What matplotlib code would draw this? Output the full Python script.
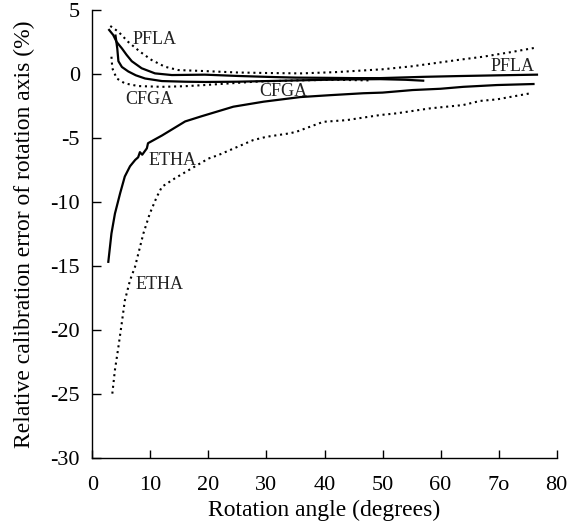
import numpy as np
import matplotlib
matplotlib.use("Agg")
import matplotlib.pyplot as plt

plt.rcParams['font.family'] = ['Liberation Serif', 'DejaVu Serif']
plt.rcParams['axes.unicode_minus'] = False

# PFLA
pfla_x = [2.9, 3.6, 4.2, 5.1, 5.9, 6.8, 8.5, 10.8, 13.7, 19.4, 25, 30, 35, 41, 45, 49.6, 57, 63, 70, 76.6]
pfla_y = [3.44, 3.05, 2.5, 2.0, 1.5, 1.0, 0.45, 0.05, -0.08, -0.05, -0.15, -0.22, -0.28, -0.3, -0.32, -0.32, -0.22, -0.16, -0.1, -0.05]
pfla_dot_x = [3.1, 4.5, 6.2, 8.2, 10.2, 12.5, 14.8, 19.4, 25, 30, 36, 42, 50, 55, 58.7, 63, 67.3, 72, 76.3]
pfla_dot_y = [3.75, 3.3, 2.5, 1.75, 1.1, 0.57, 0.31, 0.23, 0.12, 0.08, 0.05, 0.15, 0.37, 0.6, 0.83, 1.1, 1.35, 1.7, 2.05]

# CFGA
cfga_x = [4.0, 4.3, 4.5, 5.1, 6.2, 7.5, 9.1, 12, 16, 19.4, 25, 30, 35, 40, 45, 49.6, 54, 57]
cfga_y = [3.0, 2.0, 1.0, 0.55, 0.2, -0.1, -0.35, -0.55, -0.6, -0.62, -0.6, -0.55, -0.5, -0.45, -0.42, -0.4, -0.45, -0.52]
cfga_dot_x = [3.3, 3.45, 4.2, 5.6, 7.9, 12, 16, 19.4, 23, 28, 35, 42, 47.8]
cfga_dot_y = [1.35, 0.45, -0.34, -0.73, -0.94, -1.0, -0.95, -0.86, -0.75, -0.6, -0.5, -0.45, -0.5]

# ETHA
etha_x = [2.76, 3.3, 3.9, 4.8, 5.6, 6.5, 7.4, 7.9, 8.2, 8.6, 9.4, 9.6, 12, 16, 18.8, 24.3,
          29.5, 35.8, 41, 46.7, 50, 55.2, 60, 63.9, 69.7, 76]
etha_y = [-14.66, -12.45, -10.9, -9.3, -8.0, -7.2, -6.7, -6.5, -6.1, -6.3, -5.8, -5.4, -4.8, -3.7, -3.3, -2.55,
          -2.16, -1.8, -1.65, -1.5, -1.45, -1.25, -1.15, -1.0, -0.86, -0.78]
etha_dot_x = [3.45, 3.9, 4.5, 5.06, 5.6, 6.5, 7.36, 8.8, 9.9, 11.1, 12, 14.2, 17.1, 20, 21.7, 23.7, 27.7,
              30, 34, 35.2, 39.8, 43.8, 49.6, 52.4, 58.2, 63.9, 66.8, 69.7, 75.4]
etha_dot_y = [-24.95, -23.1, -21.3, -19.5, -17.7, -16.1, -15.05, -12.45, -10.9, -9.6, -8.8, -8.15, -7.37, -6.6,
              -6.33, -5.94, -5.16, -4.9, -4.63, -4.5, -3.73, -3.6, -3.2, -3.07, -2.68, -2.42, -2.1, -1.98, -1.51]

# labels: (text, x, y)
labels = [("PFLA", 10.8, 2.66), ("CFGA", 9.8, -1.95), ("CFGA", 32.9, -1.4),
          ("PFLA", 72.4, 0.59), ("ETHA", 13.8, -6.72), ("ETHA", 11.66, -16.4)]

fig = plt.figure(figsize=(5.79, 5.25), dpi=100)
ax = fig.add_axes([0.1594, 0.127, 0.8021, 0.854])

dot = (0, (1, 1.8))
ax.plot(pfla_x, pfla_y, color='black', lw=1.6)
ax.plot(pfla_dot_x, pfla_dot_y, color='black', lw=1.5, linestyle=dot)
ax.plot(cfga_x, cfga_y, color='black', lw=1.6)
ax.plot(cfga_dot_x, cfga_dot_y, color='black', lw=1.5, linestyle=dot)
ax.plot(etha_x, etha_y, color='black', lw=1.6)
ax.plot(etha_dot_x, etha_dot_y, color='black', lw=1.5, linestyle=dot)

for txt, x, y in labels:
    ax.text(x, y, txt, ha='center', va='center', fontsize=13, color='#222222')

ax.set_xlim(0, 80)
ax.set_ylim(-30, 5)
ax.set_xticks(np.arange(0, 81, 10))
ax.set_xticklabels(['0', '10', '20', '30', '40', '50', '60', '7o', '80'])
ax.set_yticks(np.arange(-30, 6, 5))

ax.spines['top'].set_visible(False)
ax.spines['right'].set_visible(False)
for s in ['left', 'bottom']:
    ax.spines[s].set_linewidth(1.0)

ax.tick_params(axis='x', direction='in', length=6, width=1.0, pad=13, labelsize=16)
ax.tick_params(axis='y', direction='in', length=6.7, width=1.0, pad=9, labelsize=16)

ax.set_xlabel('Rotation angle (degrees)', fontsize=17, labelpad=3)
ax.set_ylabel('Relative calibration error of rotation axis (%)', fontsize=17, labelpad=11)

fig.savefig('out.png', dpi=100)
